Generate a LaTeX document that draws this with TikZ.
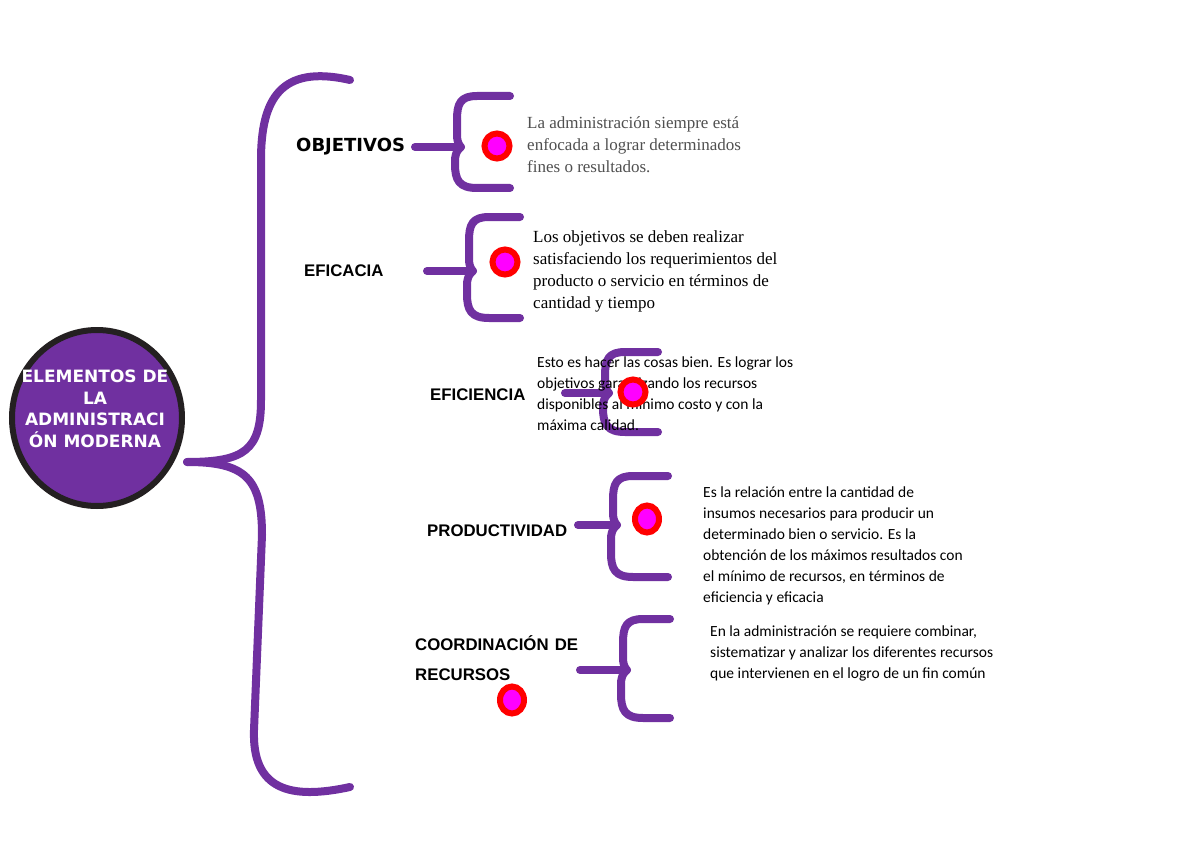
\documentclass[tikz,border=0pt]{standalone}
\usepackage{fontspec}
\usetikzlibrary{shapes.geometric}
\newfontfamily\dejavu{DejaVu Sans}
\newfontfamily\libsans{Liberation Sans}
\newfontfamily\libserif{Liberation Serif}
\newfontfamily\carl{Carlito}
\definecolor{brpurple}{RGB}{112,48,160}
\definecolor{rimdark}{RGB}{36,32,33}
\definecolor{dotred}{RGB}{255,0,0}
\definecolor{dotmag}{RGB}{255,0,255}
\definecolor{txtgray}{RGB}{80,80,80}
\newcommand\mybrace[6]{%
  \draw[bracestyle] (#3,#4) -- ({#2+20},#4) .. controls ({#2+3},#4) and (#2,{#4+8}) .. (#2,{#4+24})
     -- (#2,{#5-12}) .. controls (#2,{#5-4}) and ({#2+3},{#5-1}) .. ({#2+4},#5)
     .. controls ({#2+3},{#5+1}) and ({#2-2},{#5+4}) .. ({#2-2},{#5+14})
     -- ({#2-2},{#6-24}) .. controls ({#2-2},{#6-8}) and ({#2+2},#6) .. ({#2+20},#6) -- (#3,#6);
  \draw[bracestyle] (#1,#5) -- ({#2+4},#5);}
\tikzset{
  bracestyle/.style={draw=brpurple, line width=8pt, line cap=round, line join=round},
  dotstyle/.style={circle, fill=dotmag, draw=dotred, line width=6pt, minimum size=25pt, inner sep=0pt},
  lbl/.style={anchor=west, inner sep=0pt, font=\libsans\bfseries\fontsize{16.8}{19}\selectfont},
  serifpar/.style={anchor=north west, inner sep=0pt, align=left, font=\libserif\fontsize{17}{22}\selectfont},
  calpar/.style={anchor=north west, inner sep=0pt, align=left, font=\carl\fontsize{15.5}{21}\selectfont},
}
\begin{document}
\begin{tikzpicture}[x=1pt, y=-1pt]
\useasboundingbox (0,0) rectangle (1200,848);
\fill[white] (0,0) rectangle (1200,848);

% central ellipse
\node[ellipse, fill=brpurple, draw=rimdark, line width=6pt, minimum width=170pt, minimum height=176pt, inner sep=0pt] (root) at (97,418) {};
\node[align=center, inner sep=0pt, text=white, font=\dejavu\bfseries\fontsize{17}{21.5}\selectfont] (roottxt) at (95,409)
  {ELEMENTOS DE\\LA\\ADMINISTRACI\\ÓN MODERNA};

% big brace
\draw[bracestyle] (350,80) .. controls (280,64) and (261,100) .. (261,160) -- (261,400)
   .. controls (261,450) and (245,462) .. (187,462);
\draw[bracestyle] (187,462) .. controls (245,462) and (262,478) .. (262,535) -- (254,730)
   .. controls (252,790) and (290,800) .. (350,787);

% small braces
\mybrace{415}{457}{510}{96}{147}{188}
\mybrace{427}{469}{520}{217}{271}{318}
\mybrace{565}{605}{658}{352}{393}{432}
\mybrace{578}{613}{668}{476}{525}{577}
\mybrace{580}{623}{670}{619}{670}{718}

% labels
\node[anchor=west, inner sep=0pt, font=\dejavu\bfseries\fontsize{18}{19}\selectfont] (obj) at (296,147) {OBJETIVOS};
\node[lbl] (efa) at (304,271) {EFICACIA};
\node[lbl] (efi) at (430,395) {EFICIENCIA};
\node[lbl] (prod) at (427,531) {PRODUCTIVIDAD};
\node[lbl] (coord1) at (415,643) {\makebox[163pt][s]{COORDINACIÓN\hfill DE}};
\node[lbl] (coord2) at (415,675) {RECURSOS};

% description texts
\node[serifpar, text=txtgray] (t1) at (527,116) {La administración siempre está\\enfocada a lograr determinados\\fines o resultados.};
\node[serifpar] (t2) at (533,231) {Los objetivos se deben realizar\\satisfaciendo los requerimientos del\\producto o servicio en términos de\\cantidad y tiempo};
\node[calpar] (t3) at (537,357) {Esto es hacer las cosas bien. Es lograr los\\objetivos garantizando los recursos\\disponibles al mínimo costo y con la\\máxima calidad.};
\node[calpar] (t4) at (703,487) {Es la relación entre la cantidad de\\insumos necesarios para producir un\\determinado bien o servicio. Es la\\obtención de los máximos resultados con\\el mínimo de recursos, en términos de\\eficiencia y eficacia};
\node[calpar] (t5) at (710,626) {En la administración se requiere combinar,\\sistematizar y analizar los diferentes recursos\\que intervienen en el logro de un fin común};

% dots
\node[dotstyle] (d1) at (497,146) {};
\node[dotstyle] (d2) at (505,262) {};
\node[dotstyle] (d3) at (633,392) {};
\node[dotstyle, minimum width=24pt, minimum height=27pt, ellipse] (d4) at (647,519) {};
\node[dotstyle, minimum width=24pt, minimum height=27pt, ellipse] (d5) at (512,700) {};
\end{tikzpicture}
\end{document}
